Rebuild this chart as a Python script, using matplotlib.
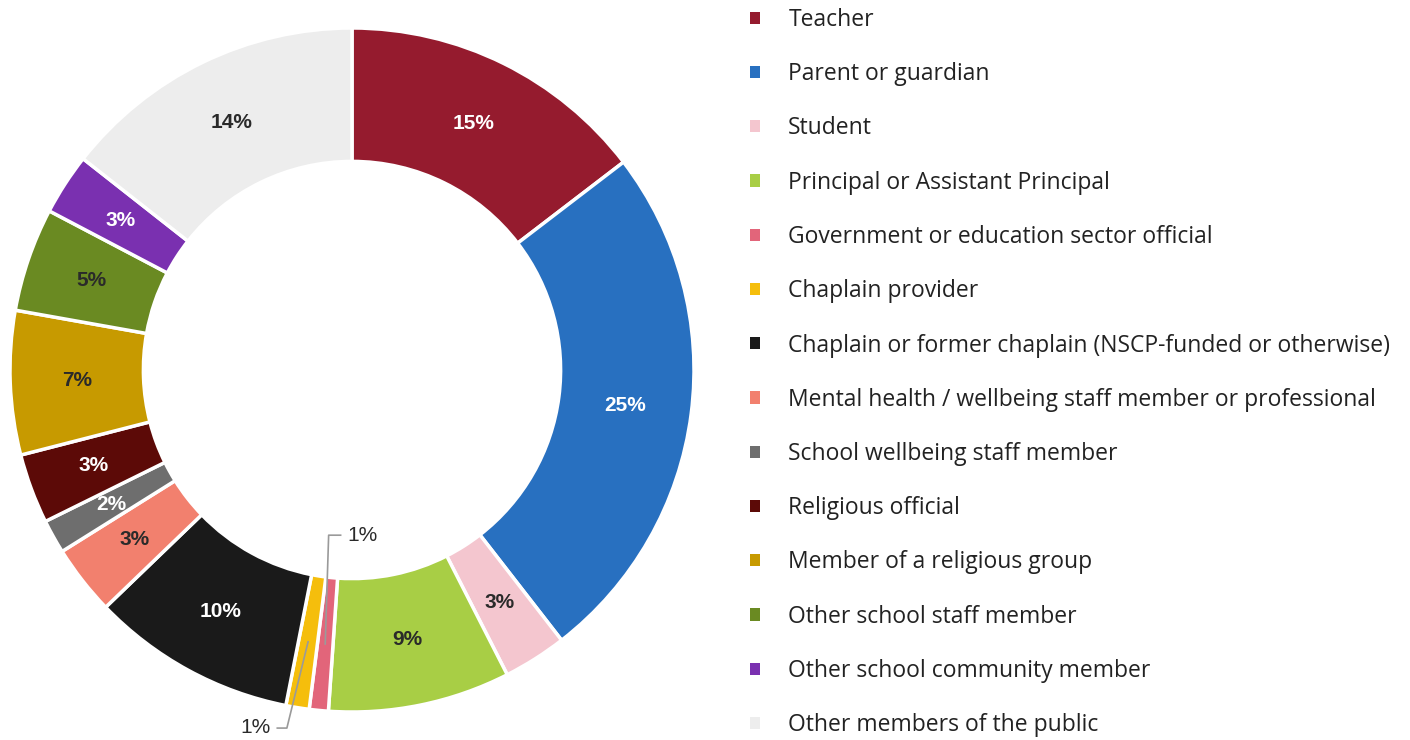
import numpy as np
import matplotlib
matplotlib.use("Agg")
import matplotlib.pyplot as plt

categories = [
    "Teacher",
    "Parent or guardian",
    "Student",
    "Principal or Assistant Principal",
    "Government or education sector official",
    "Chaplain provider",
    "Chaplain or former chaplain (NSCP-funded or otherwise)",
    "Mental health / wellbeing staff member or professional",
    "School wellbeing staff member",
    "Religious official",
    "Member of a religious group",
    "Other school staff member",
    "Other school community member",
    "Other members of the public",
]
shares = [14.6, 24.9, 3.0, 8.6, 0.9, 1.1, 9.7, 3.3, 1.6, 3.3, 6.8, 4.9, 2.9, 14.4]
colors = ["#951B2E", "#2870C0", "#F4C6CF", "#A8CE45", "#E2657A", "#F5BE0C",
          "#1A1A1A", "#F2806E", "#6E6E6E", "#5C0A07", "#C79A00", "#6A8A22",
          "#7A30B0", "#EDEDED"]
label_colors = ["white", "white", "#2a2a2a", "#2a2a2a", None, None, "white",
                "#2a2a2a", "white", "white", "#2a2a2a", "#2a2a2a", "white", "#2a2a2a"]

W, H = 1410, 740
fig = plt.figure(figsize=(W / 100, H / 100), dpi=100)
cx, cy, R = 352, 370, 342
ax = fig.add_axes([(cx - R) / W, (H - cy - R) / H, 2 * R / W, 2 * R / H])

wedges, _ = ax.pie(shares, colors=colors, startangle=90, counterclock=False,
                   wedgeprops=dict(width=0.39, edgecolor="white", linewidth=2.5))
ax.set_xlim(-1, 1)
ax.set_ylim(-1, 1)
ax.set_aspect("equal")
ax.axis("off")

rl = 0.805
for w, v, tc in zip(wedges, shares, label_colors):
    mid = np.deg2rad((w.theta1 + w.theta2) / 2)
    x, y = rl * np.cos(mid), rl * np.sin(mid)
    txt = f"{round(v):d}%"
    if tc is not None:
        ax.text(x, y, txt, ha="center", va="center", color=tc, fontsize=15,
                fontweight="bold", family="Liberation Sans")

# leader labels for the two small slices
line_col = "#9a9a9a"
# Government (index 4): line goes up
w = wedges[4]
mid = np.deg2rad((w.theta1 + w.theta2) / 2)
x0, y0 = rl * np.cos(mid), rl * np.sin(mid)
ax.plot([x0, x0 + 0.01, x0 + 0.045], [y0, -0.483, -0.483], color=line_col, lw=1.2,
        clip_on=False)
ax.text(x0 + 0.065, -0.485, f"{round(shares[4]):d}%", ha="left", va="center",
        fontsize=15, color="#2a2a2a", family="Liberation Sans")
# Chaplain provider (index 5): line goes down
w = wedges[5]
mid = np.deg2rad((w.theta1 + w.theta2) / 2)
x0, y0 = rl * np.cos(mid), rl * np.sin(mid)
ax.plot([x0, x0 - 0.062, x0 - 0.09], [y0, -1.047, -1.047], color=line_col, lw=1.2,
        clip_on=False)
ax.text(x0 - 0.11, -1.045, f"{round(shares[5]):d}%", ha="right", va="center",
        fontsize=15, color="#2a2a2a", family="Liberation Sans", clip_on=False)

leg = fig.legend(wedges, categories, loc="upper left",
                 bbox_to_anchor=(750 / W, (H - 8) / H), frameon=False,
                 prop={"family": "Open Sans", "size": 16.5},
                 handlelength=0.45, handleheight=0.45, handletextpad=1.22,
                 labelspacing=1.32, borderaxespad=0, borderpad=0)
for t in leg.get_texts():
    t.set_color("#222222")
for h in leg.legend_handles:
    h.set_linewidth(0)

fig.savefig("out.png", dpi=100)
